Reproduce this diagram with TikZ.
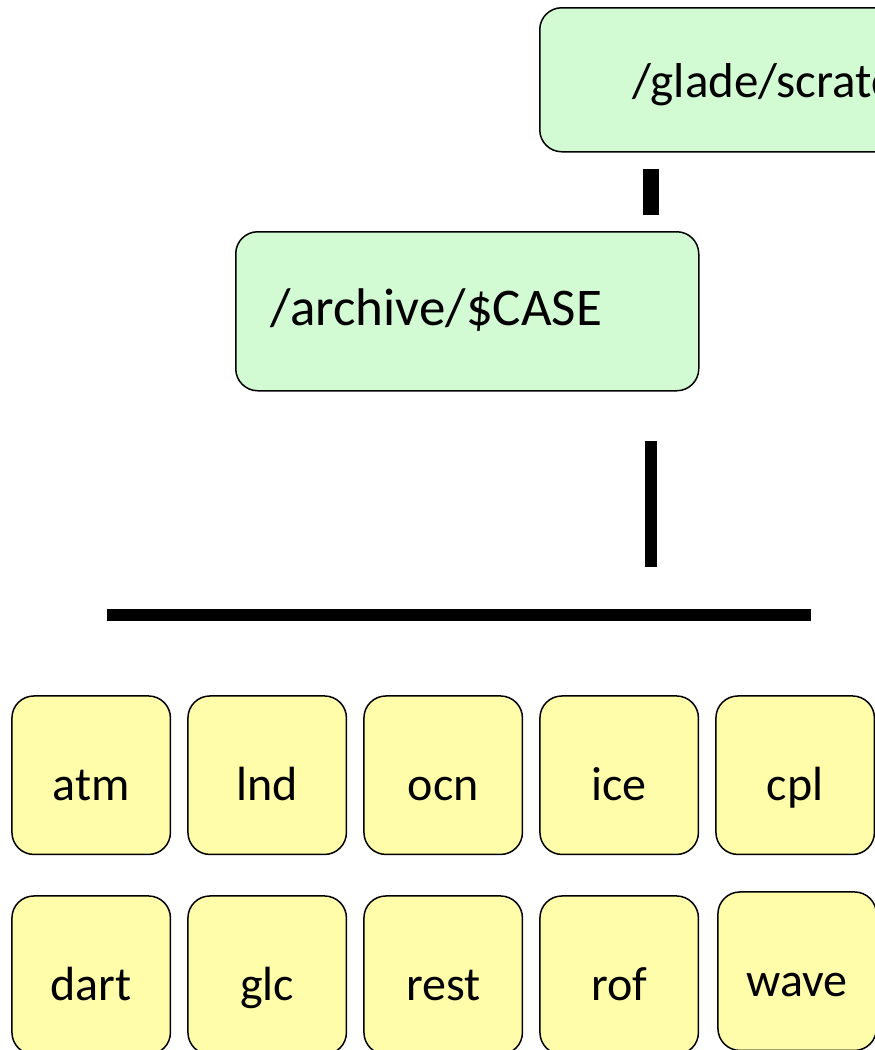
\documentclass[tikz,border=0pt]{standalone}
\usepackage{fontspec}
\setmainfont{Carlito}
\usetikzlibrary{positioning, matrix}
\definecolor{dirgreen}{HTML}{D3FBD3}
\definecolor{compyellow}{HTML}{FFFCAA}

\begin{document}
\begin{tikzpicture}[x=1pt, y=-1pt,
  dirbox/.style={draw, line width=1.5pt, rounded corners=22pt, fill=dirgreen,
    inner ysep=0pt, text depth=0pt, align=left},
  compbox/.style={draw, line width=1.5pt, rounded corners=22pt, fill=compyellow,
    minimum width=158.5pt, minimum height=158.5pt, inner sep=0pt,
    font=\fontsize{48}{56}\selectfont, text height=50pt, text depth=0pt},
  bar/.style={line width=12pt}]
  \useasboundingbox (0,0) rectangle (875,1050);
  \clip (0,0) rectangle (875,1050);

  % Directories
  \node (glade) [dirbox, anchor=north west, minimum height=144pt, text width=400pt,
    inner xsep=93pt, text height=36pt, font=\fontsize{49}{58}\selectfont] at (539,7) {/glade/scratch};
  \node (archive) [dirbox, anchor=north west, minimum height=159pt, text width=393pt,
    inner xsep=35pt, text height=29pt, font=\fontsize{53}{62}\selectfont] at (235,231) {/archive/\$CASE};

  % Components
  \matrix (comp) [matrix of nodes, nodes={compbox}, column sep=16pt, row sep=36pt,
    anchor=north west, inner sep=0pt] at (11,695) {
    atm & lnd & ocn & ice & cpl \\
    dart & glc & rest & rof & |[xshift=2pt, yshift=4pt]| wave \\
  };

  % Connectors
  \coordinate (busL) at (107,615);
  \coordinate (busR) at (811,615);
  \coordinate (drop) at (651,615);
  \draw[bar] (busL) -- (busR);
  \draw[bar, shorten <=49pt, shorten >=48pt] (archive.south -| drop) -- (drop);
  \draw[bar, line width=16pt, shorten <=16pt, shorten >=16pt] (glade.south -| drop) -- (archive.north -| drop);
\end{tikzpicture}
\end{document}
